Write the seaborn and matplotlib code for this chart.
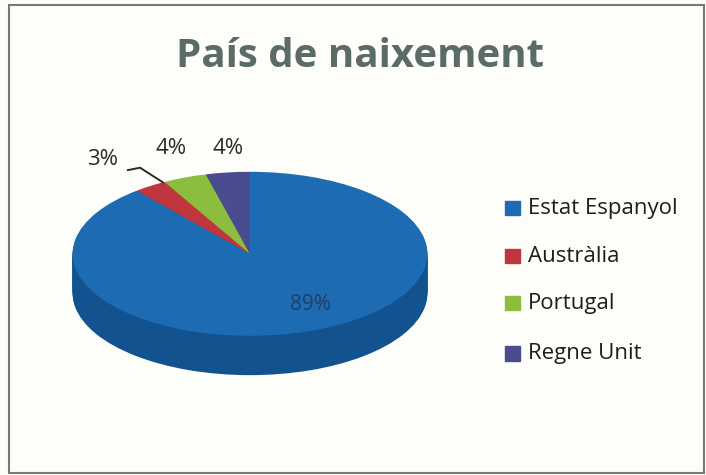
import matplotlib
matplotlib.use('Agg')
import matplotlib.pyplot as plt
import seaborn as sns
from matplotlib.patches import Rectangle

# Data
countries = ['Estat Espanyol', 'Austràlia', 'Portugal', 'Regne Unit']
shares = [89, 3, 4, 4]
pct_labels = ['89%', '3%', '4%', '4%']
top_colors = ['#1d6cb3', '#c0363f', '#8dbd3e', '#4b4b8f']
side_colors = ['#11528f', '#962a31', '#6e9630', '#3a3a70']

sns.set_theme(style='white')
plt.rcParams['font.family'] = ['Open Sans', 'DejaVu Sans']

fig = plt.figure(figsize=(7.06, 4.75), dpi=100)
fig.patch.set_facecolor('#fdfdf9')

# pie axes, squashed vertically to fake a 3D tilt
ax = fig.add_axes([0.0878, 0.1895, 0.5326, 0.4747])
ax.set_facecolor('none')

thick = 0.48
n_layers = 40
for k in range(n_layers, 0, -1):
    ax.pie(shares, colors=side_colors, startangle=90, counterclock=False,
           center=(0, -thick * k / n_layers), radius=1,
           wedgeprops=dict(linewidth=0))
wedges, _ = ax.pie(shares, colors=top_colors, startangle=90, counterclock=False,
                   center=(0, 0), radius=1, wedgeprops=dict(linewidth=0))
ax.set_aspect('auto')
ax.set_xlim(-1.06, 1.06)
ax.set_ylim(-1.6, 1.15)
ax.axis('off')

# percentage labels
ax.text(0.34, -0.62, pct_labels[0], fontsize=15, color='#1f3f66', ha='center', va='center')
ax.text(-0.83, 1.15, pct_labels[1], fontsize=16, color='#2a2a2a', ha='center', va='center')
ax.plot([-0.69, -0.62, -0.49], [1.02, 1.05, 0.87], color='#2a2a2a', lw=1.4)
ax.text(-0.445, 1.28, pct_labels[2], fontsize=16, color='#2a2a2a', ha='center', va='center')
ax.text(-0.124, 1.28, pct_labels[3], fontsize=16, color='#2a2a2a', ha='center', va='center')

# title
fig.text(0.51, 0.882, 'País de naixement', fontsize=29, fontweight='bold',
         color='#5b6b66', ha='center', va='center')

# legend
leg_y = [0.562, 0.461, 0.362, 0.256]
for name, col, y in zip(countries, top_colors, leg_y):
    fig.patches.append(Rectangle((0.716, y - 0.015), 0.02, 0.03, color=col,
                                 transform=fig.transFigure, figure=fig))
    fig.text(0.748, y, name, fontsize=16, color='#1e1e1e', ha='left', va='center')

# frame of the scanned chart
fig.patches.append(Rectangle((0.013, 0.004), 0.984, 0.986, fill=False,
                             edgecolor='#777777', lw=1.5,
                             transform=fig.transFigure, figure=fig))

fig.savefig('out.png', dpi=100, facecolor=fig.get_facecolor())
